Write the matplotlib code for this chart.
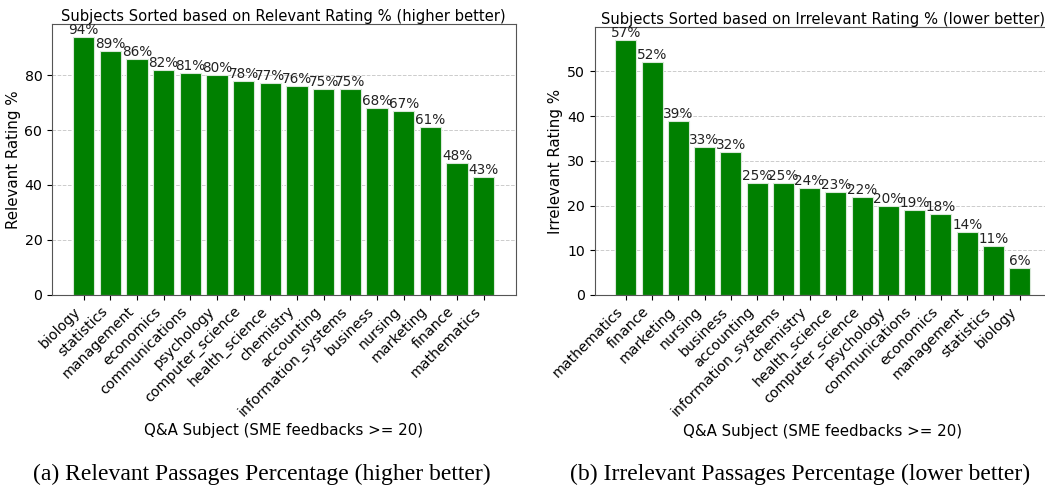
import matplotlib
matplotlib.use("Agg")
import matplotlib.pyplot as plt

rel_subjects = ["biology", "statistics", "management", "economics", "communications",
                "psychology", "computer_science", "health_science", "chemistry", "accounting",
                "information_systems", "business", "nursing", "marketing", "finance", "mathematics"]
rel_values = [94, 89, 86, 82, 81, 80, 78, 77, 76, 75, 75, 68, 67, 61, 48, 43]

irr_subjects = ["mathematics", "finance", "marketing", "nursing", "business", "accounting",
                "information_systems", "chemistry", "health_science", "computer_science",
                "psychology", "communications", "economics", "management", "statistics", "biology"]
irr_values = [57, 52, 39, 33, 32, 25, 25, 24, 23, 22, 20, 19, 18, 14, 11, 6]

W, H = 1045, 487
fig = plt.figure(figsize=(W / 100, H / 100), dpi=100)

def box(l, t, r, b):
    return [l / W, 1 - b / H, (r - l) / W, (b - t) / H]

ax1 = fig.add_axes(box(52, 24, 515.5, 294.5))
ax2 = fig.add_axes(box(594.5, 27.3, 1051, 295))

panels = [
    (ax1, rel_subjects, rel_values, "Subjects Sorted based on Relevant Rating % (higher better)",
     "Relevant Rating %", "(a) Relevant Passages Percentage (higher better)", 262),
    (ax2, irr_subjects, irr_values, "Subjects Sorted based on Irrelevant Rating % (lower better)",
     "Irrelevant Rating %", "(b) Irrelevant Passages Percentage (lower better)", 800),
]

FS = 10.8
TFS = 10.2
for ax, subj, vals, title, ylabel, caption, cx in panels:
    ax.set_axisbelow(True)
    ax.yaxis.grid(True, linestyle="--", color="#cccccc", linewidth=0.7)
    bars = ax.bar(subj, vals, color="green", edgecolor="#d8e8d8", linewidth=0.8)
    for b, v in zip(bars, vals):
        ax.text(b.get_x() + b.get_width() / 2, v, f"{v}%", ha="center", va="bottom",
                fontsize=9.8, color="#222222")
    ax.set_title(title, fontsize=10.6, pad=2)
    ax.set_ylabel(ylabel, fontsize=FS, labelpad=2.5)
    ax.set_xlabel("Q&A Subject (SME feedbacks >= 20)", fontsize=FS, labelpad=3)
    ax.tick_params(axis="x", labelsize=TFS, rotation=45)
    ax.tick_params(axis="y", labelsize=TFS)
    for lab in ax.get_xticklabels():
        lab.set_ha("right")
    for s in ax.spines.values():
        s.set_color("#555555")
    fig.text(cx / W, 1 - 480 / H, caption, ha="center", va="baseline",
             fontsize=17, family="Liberation Serif")

fig.savefig("out.png", dpi=100)
